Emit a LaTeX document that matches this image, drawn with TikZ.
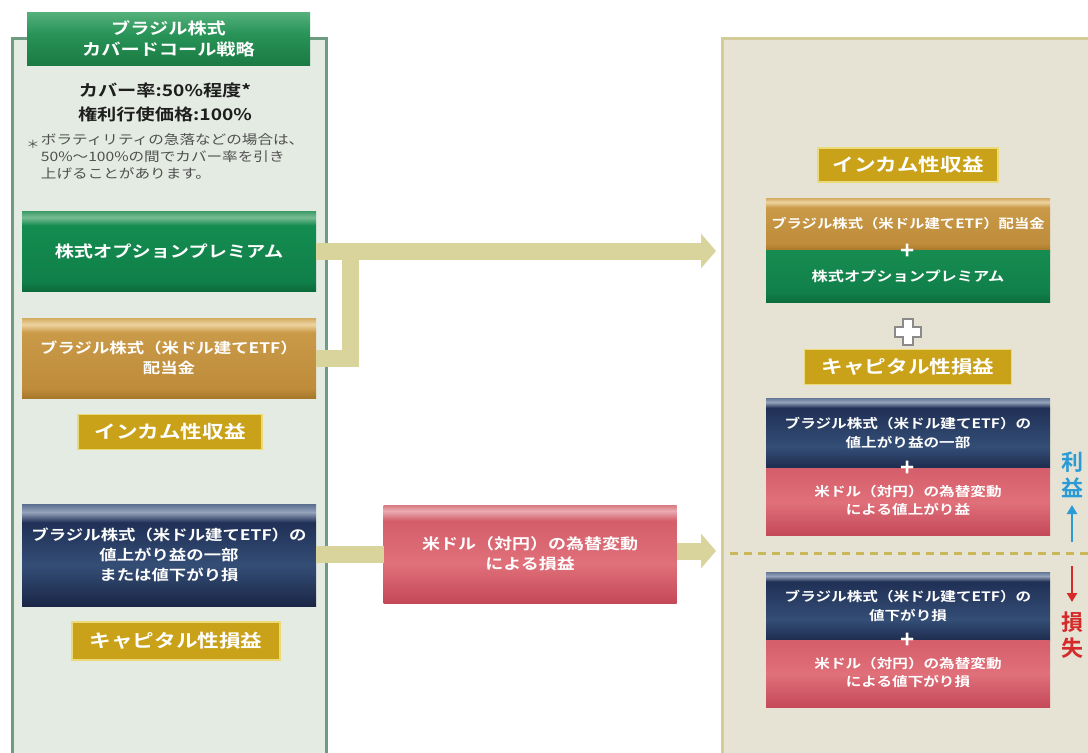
\documentclass[tikz,border=0pt]{standalone}
\usepackage{fontspec}
\setmainfont{Noto Sans CJK JP}[BoldFont={* Bold}, FakeStretch=1.2]
\newfontfamily\plainjp{Noto Sans CJK JP}[BoldFont={* Bold}]
\usetikzlibrary{arrows.meta}
\definecolor{lpfill}{HTML}{E4EBE2}
\definecolor{lpborder}{HTML}{6E9C80}
\definecolor{rpfill}{HTML}{E6E3D5}
\definecolor{rpborder}{HTML}{D3CB98}
\definecolor{arrowc}{HTML}{D9D49C}
\definecolor{labelfill}{HTML}{C9A219}
\definecolor{labelborder}{HTML}{EADB78}
\definecolor{textdark}{HTML}{1E1E1E}
\definecolor{notegray}{HTML}{505050}
\definecolor{dashc}{HTML}{C8B85A}
\definecolor{bluec}{HTML}{2A9BD5}
\definecolor{redc}{HTML}{D42A2A}
\definecolor{crossc}{HTML}{8A8A8A}
% TikZ maps the path's box onto 25bp..75bp of a vertical shading (0bp = bottom)
\pgfdeclareverticalshading{greenshade}{100bp}{color(0bp)=({rgb,255:red,11;green,106;blue,58}); color(25bp)=({rgb,255:red,11;green,106;blue,58}); color(31bp)=({rgb,255:red,16;green,128;blue,74}); color(66bp)=({rgb,255:red,20;green,140;blue,80}); color(71bp)=({rgb,255:red,120;green,188;blue,148}); color(75bp)=({rgb,255:red,60;green,154;blue,102}); color(100bp)=({rgb,255:red,60;green,154;blue,102})}
\pgfdeclareverticalshading{greenflat}{100bp}{color(0bp)=({rgb,255:red,12;green,110;blue,60}); color(25bp)=({rgb,255:red,12;green,110;blue,60}); color(35bp)=({rgb,255:red,16;green,128;blue,74}); color(75bp)=({rgb,255:red,22;green,140;blue,80}); color(100bp)=({rgb,255:red,22;green,140;blue,80})}
\pgfdeclareverticalshading{goldshade}{100bp}{color(0bp)=({rgb,255:red,168;green,120;blue,42}); color(25bp)=({rgb,255:red,168;green,120;blue,42}); color(31bp)=({rgb,255:red,190;green,140;blue,58}); color(66bp)=({rgb,255:red,201;green,154;blue,72}); color(71bp)=({rgb,255:red,238;green,212;blue,160}); color(75bp)=({rgb,255:red,210;green,170;blue,96}); color(100bp)=({rgb,255:red,210;green,170;blue,96})}
\pgfdeclareverticalshading{navyshade}{100bp}{color(0bp)=({rgb,255:red,26;green,38;blue,71}); color(25bp)=({rgb,255:red,26;green,38;blue,71}); color(45bp)=({rgb,255:red,52;green,78;blue,118}); color(66bp)=({rgb,255:red,32;green,48;blue,86}); color(71bp)=({rgb,255:red,150;green,164;blue,188}); color(75bp)=({rgb,255:red,90;green,110;blue,144}); color(100bp)=({rgb,255:red,90;green,110;blue,144})}
\pgfdeclareverticalshading{navyflat}{100bp}{color(0bp)=({rgb,255:red,30;green,44;blue,78}); color(25bp)=({rgb,255:red,30;green,44;blue,78}); color(40bp)=({rgb,255:red,52;green,78;blue,118}); color(68bp)=({rgb,255:red,32;green,48;blue,86}); color(72bp)=({rgb,255:red,150;green,164;blue,188}); color(75bp)=({rgb,255:red,100;green,118;blue,150}); color(100bp)=({rgb,255:red,100;green,118;blue,150})}
\pgfdeclareverticalshading{redshade}{100bp}{color(0bp)=({rgb,255:red,196;green,72;blue,88}); color(25bp)=({rgb,255:red,196;green,72;blue,88}); color(45bp)=({rgb,255:red,224;green,112;blue,122}); color(67bp)=({rgb,255:red,211;green,94;blue,106}); color(72bp)=({rgb,255:red,234;green,172;blue,178}); color(75bp)=({rgb,255:red,216;green,120;blue,128}); color(100bp)=({rgb,255:red,216;green,120;blue,128})}
\pgfdeclareverticalshading{redflat}{100bp}{color(0bp)=({rgb,255:red,196;green,72;blue,88}); color(25bp)=({rgb,255:red,196;green,72;blue,88}); color(50bp)=({rgb,255:red,224;green,112;blue,122}); color(75bp)=({rgb,255:red,212;green,94;blue,106}); color(100bp)=({rgb,255:red,212;green,94;blue,106})}
\pgfdeclareverticalshading{titleshade}{100bp}{color(0bp)=({rgb,255:red,26;green,122;blue,66}); color(25bp)=({rgb,255:red,26;green,122;blue,66}); color(55bp)=({rgb,255:red,40;green,148;blue,88}); color(75bp)=({rgb,255:red,84;green,176;blue,122}); color(100bp)=({rgb,255:red,84;green,176;blue,122})}
\begin{document}
\begin{tikzpicture}[x=1pt,y=-1pt,
  every node/.style={inner sep=0pt, outer sep=0pt},
  boxtext/.style={text=white, font=\bfseries\fontsize{14.5}{20}\selectfont, align=center},
  smalltext/.style={text=white, font=\bfseries\fontsize{13}{19}\selectfont, align=center},
  greenbox/.style={boxtext, shading=greenshade, minimum width=294pt},
  goldbox/.style={boxtext, shading=goldshade, minimum width=294pt},
  navybox/.style={boxtext, shading=navyshade, minimum width=294pt},
  redbox/.style={boxtext, shading=redshade, minimum width=293pt},
  rgoldbox/.style={smalltext, shading=goldshade, minimum width=284pt},
  rgreenbox/.style={smalltext, shading=greenflat, minimum width=284pt},
  rnavybox/.style={smalltext, shading=navyflat, minimum width=284pt},
  rredbox/.style={smalltext, shading=redflat, minimum width=284pt},
  tagbox/.style={fill=labelfill, draw=labelborder, line width=1.8pt, text=white, font=\bfseries\fontsize{18}{20}\selectfont},
  plus/.style={text=white, font=\plainjp\bfseries\fontsize{24}{24}\selectfont},
  flow/.style={draw=arrowc, line width=17pt},
  flowtip/.style={flow, -{Triangle[width=34pt,length=15pt]}},
  sidetext/.style={font=\plainjp\bfseries\fontsize{22}{26}\selectfont, align=center}
]
\useasboundingbox (0,0) rectangle (1088,753);
\fill[white] (0,0) rectangle (1088,753);
% panels
\node[fill=lpfill, draw=lpborder, line width=3pt, anchor=north west, minimum width=314pt, minimum height=760pt] (lp) at (12,38) {};
\node[fill=rpfill, draw=rpborder, line width=3pt, anchor=north west, minimum width=400pt, minimum height=760pt] (rp) at (722,38) {};
% title tab
\node[shading=titleshade, minimum width=283pt, minimum height=53pt, text=white, font=\bfseries\fontsize{16}{21}\selectfont, align=center] (title) at (168.5,39) {ブラジル株式\\カバードコール戦略};
% strategy text
\node[text=textdark, font=\bfseries\fontsize{16}{18}\selectfont] (cover) at (165,90) {カバー率:50\%程度*};
\node[text=textdark, font=\bfseries\fontsize{16}{18}\selectfont] (strike) at (165,114) {権利行使価格:100\%};
\node[text=notegray, font=\fontsize{11}{13}\selectfont] (star) at (33,144) {＊};
\node[text=notegray, font=\fontsize{13}{17}\selectfont, anchor=north west, align=left] (note) at (41,134) {ボラティリティの急落などの場合は、\\50\%～100\%の間でカバー率を引き\\上げることがあります。};
% left boxes
\node[greenbox, minimum height=80pt, font=\bfseries\fontsize{16}{20}\selectfont] (lgreen) at (169,251) {株式オプションプレミアム};
\node[goldbox, minimum height=80pt] (lgold) at (169,358) {ブラジル株式（米ドル建てETF）\\配当金};
\node[tagbox, minimum width=184pt, minimum height=35pt] (lincome) at (170,432) {インカム性収益};
\node[navybox, minimum height=102pt] (lnavy) at (169,555) {ブラジル株式（米ドル建てETF）の\\値上がり益の一部\\または値下がり損};
\node[tagbox, minimum width=208pt, minimum height=38pt] (lcapital) at (176,641) {キャピタル性損益};
% middle
\node[redbox, minimum height=98pt, font=\bfseries\fontsize{15}{20}\selectfont] (mred) at (530,554) {米ドル（対円）の為替変動\\による損益};
% arrows
\coordinate (jn) at (350,251);
\coordinate (a1end) at (716,251);
\coordinate (a2end) at (716,551);
\draw[flow] (lgold.east) -| (jn);
\draw[flowtip] (lgreen.east) -- (a1end);
\draw[flow] (lnavy.east |- mred.west) -- (mred.west);
\draw[flowtip] (mred.east |- a2end) -- (a2end);
% right panel contents
\node[tagbox, minimum width=180pt, minimum height=34pt] (rincome) at (908,165) {インカム性収益};
\node[rgoldbox, minimum height=52pt, font=\bfseries\fontsize{12.8}{19}\selectfont] (rgold) at (908,224) {\raisebox{3pt}{ブラジル株式（米ドル建てETF）配当金}};
\node[rgreenbox, minimum height=52pt, font=\bfseries\fontsize{13.5}{19}\selectfont] (rgreen) at (908,276) {\raisebox{-5pt}{株式オプションプレミアム}};
\node[plus] (plus1) at (908,252) {+};
\draw[draw=crossc, fill=white, line width=1.2pt, shift={(908,332)}] (-5,-13) -- (5,-13) -- (5,-5) -- (13,-5) -- (13,5) -- (5,5) -- (5,13) -- (-5,13) -- (-5,5) -- (-13,5) -- (-13,-5) -- (-5,-5) -- cycle;
\node[tagbox, minimum width=207pt, minimum height=35pt] (rcapital) at (908,367) {キャピタル性損益};
\node[rnavybox, minimum height=70pt] (rnavy1) at (908,433) {ブラジル株式（米ドル建てETF）の\\値上がり益の一部};
\node[rredbox, minimum height=67pt] (rred1) at (908,502) {\raisebox{-3pt}{\begin{tabular}{@{}c@{}}米ドル（対円）の為替変動\\[-1pt]による値上がり益\end{tabular}}};
\node[plus] (plus2) at (908,469) {+};
\draw[dashc, line width=3pt, dash pattern=on 8pt off 6pt] (730,553) -- (1088,553);
\node[rnavybox, minimum height=68pt] (rnavy2) at (908,606) {ブラジル株式（米ドル建てETF）の\\値下がり損};
\node[rredbox, minimum height=67pt] (rred2) at (908,674) {\raisebox{-3pt}{\begin{tabular}{@{}c@{}}米ドル（対円）の為替変動\\[-1pt]による値下がり損\end{tabular}}};
\node[plus] (plus3) at (908,641) {+};
% gain / loss side
\node[sidetext, text=bluec] (gain) at (1072,475) {利\\益};
\coordinate (upstart) at (1072,542);
\coordinate (upend) at (1072,505);
\draw[bluec, line width=2.5pt, -{Triangle[width=10pt,length=9pt]}] (upstart) -- (upend);
\coordinate (dnstart) at (1072,566);
\coordinate (dnend) at (1072,602);
\draw[redc, line width=2.5pt, -{Triangle[width=10pt,length=9pt]}] (dnstart) -- (dnend);
\node[sidetext, text=redc] (loss) at (1072,635) {損\\失};
\end{tikzpicture}
\end{document}
